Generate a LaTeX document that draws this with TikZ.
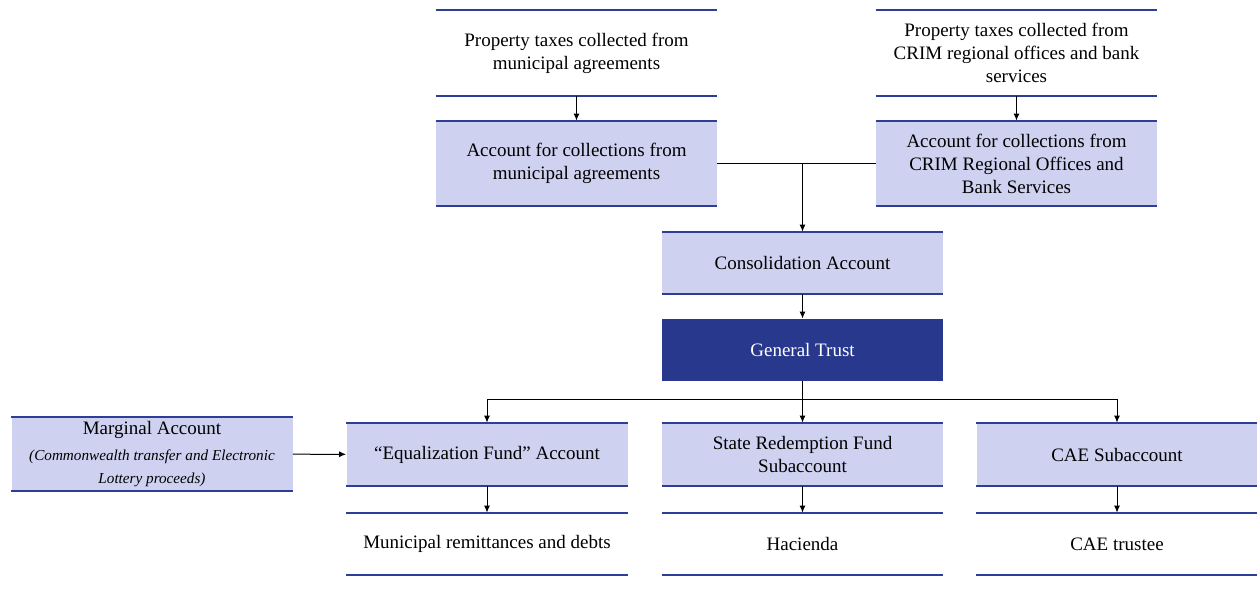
\documentclass[tikz,border=0pt]{standalone}
\usepackage{fontspec}
\setmainfont{Liberation Serif}
\usetikzlibrary{arrows.meta}
\definecolor{acctfill}{RGB}{206,210,240}
\definecolor{acctline}{RGB}{46,62,150}
\definecolor{trustfill}{RGB}{40,56,140}
\newcommand{\notefont}{\fontsize{7.6}{9}\selectfont\itshape}
\tikzset{
  box/.style={minimum width=140.5pt, inner sep=2pt, align=center, font=\fontsize{9.5}{11.5}\selectfont},
  acct/.style={box, fill=acctfill},
  plain/.style={box},
  trustbox/.style={box, fill=trustfill, text=white},
  flow/.style={-{Latex[length=3.5pt,width=3pt]}, line width=0.5pt},
  link/.style={line width=0.5pt}
}
\begin{document}
\begin{tikzpicture}[x=0.5pt,y=-0.5pt]
        \useasboundingbox (0,0) rectangle (1257,601);
        % sources
        \node[plain, minimum height=43pt] (ptmun) at (576.5,53) {Property taxes collected from\\municipal agreements};
        \node[plain, minimum height=43pt] (ptcrim) at (1016.5,53) {Property taxes collected from\\CRIM regional offices and bank\\services};
        \node[acct, minimum height=42.5pt] (acmun) at (576.5,163.5) {Account for collections from\\municipal agreements};
        \node[acct, minimum height=42.5pt] (accrim) at (1016.5,163.5) {Account for collections from\\CRIM Regional Offices and\\Bank Services};
        % middle
        \node[acct, minimum height=31pt] (consol) at (802.5,263) {Consolidation Account};
        \node[trustbox, minimum height=31pt] (trust) at (802.5,350) {General Trust};
        % subaccounts
        \node[acct, minimum height=36pt] (marg) at (152,454) {Marginal Account\\[1.5pt]\notefont (Commonwealth transfer and Electronic\\\notefont Lottery proceeds)};
        \node[acct, minimum height=31.5pt] (equal) at (487,454.5) {``Equalization Fund'' Account};
        \node[acct, minimum height=31.5pt] (state) at (802.5,454.5) {State Redemption Fund\\Subaccount};
        \node[acct, minimum height=31.5pt] (cae) at (1117,454.5) {CAE Subaccount};
        % destinations
        \node[plain, minimum height=31pt] (remit) at (487,544) {Municipal remittances and debts};
        \node[plain, minimum height=31pt] (hac) at (802.5,544) {Hacienda};
        \node[plain, minimum height=31pt] (trustee) at (1117,544) {CAE trustee};
        % top and bottom rules
        \foreach \n in {ptmun,ptcrim,acmun,accrim,consol,marg,equal,state,cae,remit,hac,trustee}
          \draw[acctline, line width=1pt] (\n.north west) -- (\n.north east) (\n.south west) -- (\n.south east);
        % connectors
        \draw[flow] (ptmun) -- (acmun);
        \draw[flow] (ptcrim) -- (accrim);
        \coordinate (join) at (consol.north |- acmun.east);
        \draw[link] (acmun.east) -- (join) -- (accrim.west);
        \draw[flow] (join) -- (consol);
        \draw[flow] (consol) -- (trust);
        \coordinate (split) at (802.5,399);
        \draw[link] (trust.south) -- (split);
        \draw[link] (equal.north |- split) -- (cae.north |- split);
        \foreach \n in {equal,state,cae}
          \draw[flow] (\n.north |- split) -- (\n.north);
        \draw[flow] (marg) -- (equal);
        \draw[flow] (equal) -- (remit);
        \draw[flow] (state) -- (hac);
        \draw[flow] (cae) -- (trustee);
\end{tikzpicture}
\end{document}
